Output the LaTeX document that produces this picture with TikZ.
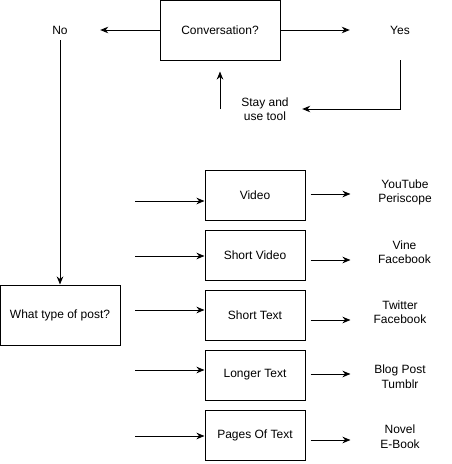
\documentclass[tikz,border=0pt]{standalone}
\usepackage{fontspec}
\setmainfont{Liberation Sans}
\usetikzlibrary{arrows.meta,calc}
\tikzset{box/.style={draw,line width=1pt,minimum width=100pt,minimum height=50pt,inner sep=0pt},
  lbl/.style={align=center,inner sep=0pt},
  arr/.style={line width=1pt,-{Stealth[length=8pt,width=6.5pt,inset=2.5pt]}}}
\begin{document}
\begin{tikzpicture}[x=1pt,y=-1pt,font=\fontsize{12}{14.5}\selectfont]
\useasboundingbox(0,0)rectangle(452,464);
\node[box,minimum width=120pt,minimum height=60pt](conv)at(220,30){Conversation?};
\node[lbl,minimum width=80pt,minimum height=20pt](no)at(60,30){No};
\node[lbl,minimum width=100pt,minimum height=60pt](yes)at(400,30){Yes};
\node[lbl,minimum width=74pt](stay)at(265,109){Stay and\\use tool};
\draw[arr](conv.west)--(no.east);\draw[arr](conv.east)--(yes.west);
\draw[arr](yes.south)|-(stay.east);\draw[arr,shorten >=11pt](conv.south|-stay)--(conv.south);
% type of post
\node[box,minimum width=120pt,minimum height=60pt](post)at(60,315){What type of post?};
\draw[arr](no.south)--(post.north);
\node[box](video)at(255,195){Video};
\node[box](svideo)at(255,255){Short Video};
\node[box](stext)at(255,315){Short Text};
\node[box](ltext)at(255,375){Longer Text};
\node[box](pages)at(255,435){Pages Of Text};
\coordinate(in1)at(135,201);\coordinate(in2)at(135,256);\coordinate(in3)at(135,310);
\coordinate(in4)at(135,370);\coordinate(in5)at(135,436);
\draw[arr](in1)--(in1-|video.west);\draw[arr](in2)--(in2-|svideo.west);
\draw[arr](in3)--(in3-|stext.west);\draw[arr](in4)--(in4-|ltext.west);
\draw[arr](in5)--(in5-|pages.west);
% where to post
\node[lbl](yt)at(405,192.5){YouTube\\Periscope};
\node[lbl](vine)at(404.5,252){Vine\\Facebook};
\node[lbl](tw)at(400,312){Twitter\\Facebook};
\node[lbl](blog)at(400,376.5){Blog Post\\Tumblr};
\node[lbl](novel)at(400,436.5){Novel\\E-Book};
\draw[arr,shorten <=5pt]([yshift=1pt]video.east)--++(45,0);
\draw[arr,shorten <=5pt]([yshift=-5pt]svideo.east)--++(45,0);
\draw[arr,shorten <=5pt]([yshift=-5pt]stext.east)--++(45,0);
\draw[arr,shorten <=5pt]([yshift=1pt]ltext.east)--++(45,0);
\draw[arr,shorten <=5pt]([yshift=-5pt]pages.east)--++(45,0);
\end{tikzpicture}
\end{document}
